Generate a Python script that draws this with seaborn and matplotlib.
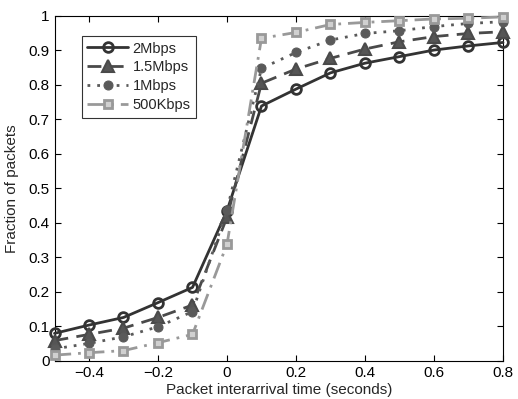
import matplotlib
matplotlib.use("Agg")
import matplotlib.pyplot as plt
import seaborn as sns
import pandas as pd
import numpy as np

x = [-0.5, -0.4, -0.3, -0.2, -0.1, 0.0, 0.1, 0.2, 0.3, 0.4, 0.5, 0.6, 0.7, 0.8]
y_2m = [0.080, 0.104, 0.126, 0.169, 0.213, 0.435, 0.738, 0.787, 0.834, 0.862, 0.881, 0.900, 0.912, 0.922]
y_15m = [0.059, 0.077, 0.095, 0.126, 0.162, 0.416, 0.804, 0.845, 0.876, 0.903, 0.924, 0.939, 0.948, 0.953]
y_1m = [0.035, 0.051, 0.070, 0.099, 0.143, 0.437, 0.847, 0.893, 0.929, 0.948, 0.956, 0.968, 0.977, 0.982]
y_500k = [0.017, 0.024, 0.030, 0.053, 0.077, 0.338, 0.934, 0.951, 0.974, 0.980, 0.985, 0.990, 0.992, 0.996]
labels = ["2Mbps", "1.5Mbps", "1Mbps", "500Kbps"]
xticks = [-0.4, -0.2, 0, 0.2, 0.4, 0.6, 0.8]
xticklabels = ["\u22120.4", "\u22120.2", "0", "0.2", "0.4", "0.6", "0.8"]
yticks = [0, 0.1, 0.2, 0.3, 0.4, 0.5, 0.6, 0.7, 0.8, 0.9, 1]
yticklabels = ["0", "0.1", "0.2", "0.3", "0.4", "0.5", "0.6", "0.7", "0.8", "0.9", "1"]

sns.set_style("white")
plt.rcParams['font.family'] = ['Liberation Sans', 'DejaVu Sans']

fig = plt.figure(figsize=(5.18, 3.99), dpi=100)
ax = fig.add_axes([54.5/518, (399-361)/399, (503-54.5)/518, (361-15.5)/399])

styles = [
    dict(color="#333333", linestyle="-", marker="o", markerfacecolor="none",
         markeredgecolor="#333333", markersize=7, linewidth=2.0, markeredgewidth=2.0),
    dict(color="#4a4a4a", linestyle=(0, (5, 3)), marker="^", markerfacecolor="#555555",
         markeredgecolor="#4a4a4a", markersize=8, linewidth=2.0, markeredgewidth=1.5),
    dict(color="#5a5a5a", linestyle=(0, (1, 2.5)), marker="o", markerfacecolor="#5a5a5a",
         markeredgecolor="#5a5a5a", markersize=6.5, linewidth=2.0),
    dict(color="#999999", linestyle=(0, (6, 2.5, 1, 2.5)), marker="s", markerfacecolor="#d0d0d0",
         markeredgecolor="#999999", markersize=6, linewidth=2.0, markeredgewidth=2.0),
]

for ys, lab, st in zip([y_2m, y_15m, y_1m, y_500k], labels, styles):
    df = pd.DataFrame({"x": x, "y": ys})
    sns.lineplot(data=df, x="x", y="y", ax=ax, label=lab, clip_on=False, zorder=3, **st)

ax.set_xlim(-0.5, 0.8)
ax.set_ylim(0, 1)
ax.set_xticks(xticks)
ax.set_xticklabels(xticklabels)
ax.set_yticks(yticks)
ax.set_yticklabels(yticklabels)
ax.tick_params(direction="in", length=4, labelsize=11, colors="black", top=True, right=True,
               bottom=True, left=True, width=0.8)
ax.set_xlabel("Packet interarrival time (seconds)", fontsize=11, labelpad=2)
ax.set_ylabel("Fraction of packets", fontsize=11, labelpad=7)
for s in ax.spines.values():
    s.set_visible(True)
    s.set_color("black")
    s.set_linewidth(0.8)

leg = ax.legend(loc="upper left", bbox_to_anchor=((81.7-54.5)/448.5, (361-36)/345.5),
                fontsize=10.5, frameon=True, fancybox=False, edgecolor="black",
                handlelength=2.8, borderpad=0.38, labelspacing=0.33, handletextpad=0.3,
                borderaxespad=0)
leg.get_frame().set_linewidth(0.8)

fig.savefig("out.png", dpi=100)
